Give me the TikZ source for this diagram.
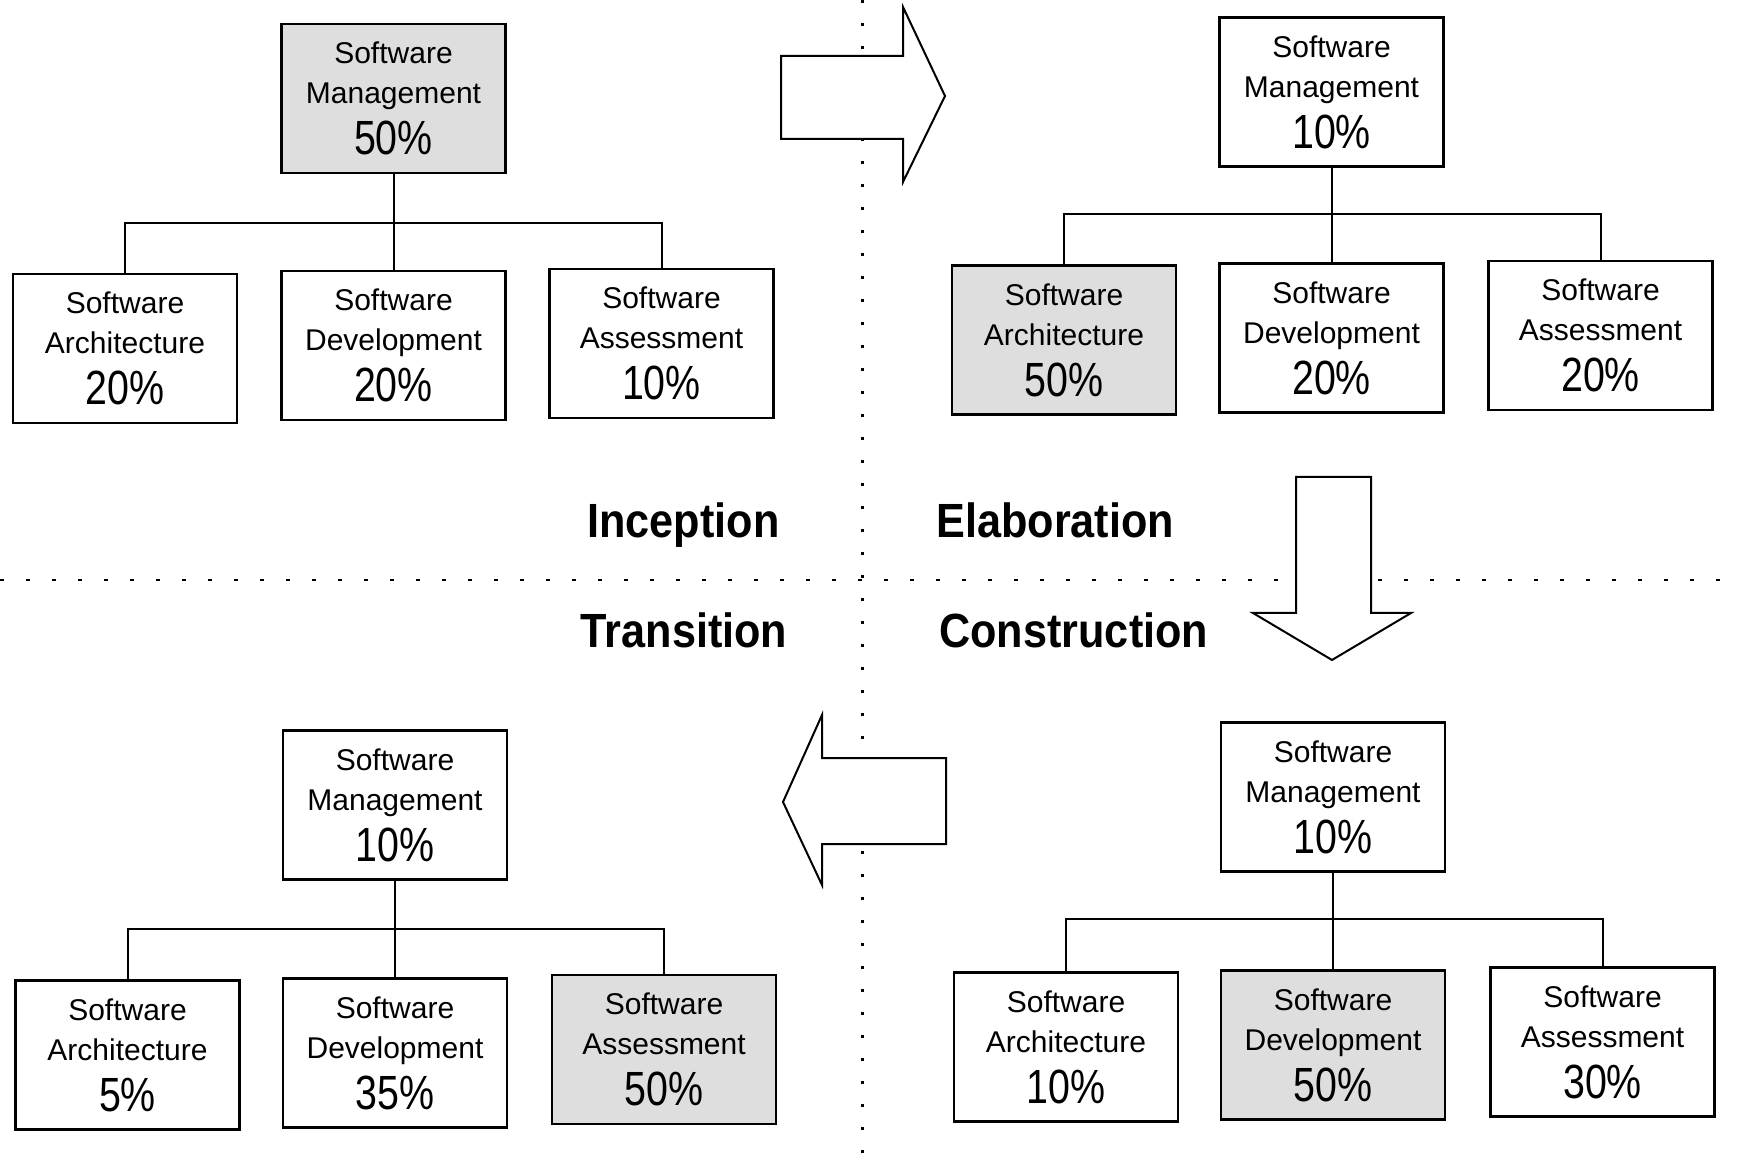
\documentclass[tikz,border=0pt]{standalone}
\usepackage{fontspec}
\setmainfont{Liberation Sans}
\newfontfamily\pctfont[FakeStretch=0.82]{Liberation Sans}
\newfontfamily\headfont[FakeStretch=0.9]{Liberation Sans}
\definecolor{shade}{gray}{0.87}
\begin{document}
\begin{tikzpicture}[x=0.5pt,y=-0.5pt,
  wbs/.style={draw, line width=1.2pt, minimum width=112pt, minimum height=74.5pt,
    inner sep=0pt, align=center, font=\fontsize{15}{20}\selectfont},
  hot/.style={wbs, fill=shade},
  link/.style={line width=1pt},
  phase/.style={inner sep=0pt, font=\headfont\bfseries\fontsize{24}{28}\selectfont},
  bigarrow/.style={draw, fill=white, line width=1pt, line join=miter},
  vdots/.style={line width=1.3pt, dash pattern=on 1.5pt off 10pt},
  hdots/.style={line width=1.3pt, dash pattern=on 1.8pt off 11.2pt}]
\newcommand{\pct}[1]{\\[5.5pt]{\pctfont\fontsize{24}{24}\selectfont #1\%}}
\useasboundingbox (0,0) rectangle (1742,1160);
\fill[white] (0,0) rectangle (1742,1160);

% quadrant separators
\draw[vdots] (862.5,0) -- (862.5,1160);
\draw[hdots] (0,580) -- (1742,580);

% Inception
\node[hot] (m1) at (393.5,98.5) {Software\\Management\pct{50}};
\node[wbs] (a1) at (125,348.5) {Software\\Architecture\pct{20}};
\node[wbs] (d1) at (393.5,345.5) {Software\\Development\pct{20}};
\node[wbs] (s1) at (661.5,343.5) {Software\\Assessment\pct{10}};
\coordinate (j1) at (393.5,223);
\draw[link] (m1.south) -- (d1.north);
\draw[link] (a1.north) |- (j1) -| (s1.north);

% Elaboration
\node[wbs] (m2) at (1331.5,92) {Software\\Management\pct{10}};
\node[hot] (a2) at (1064,340) {Software\\Architecture\pct{50}};
\node[wbs] (d2) at (1331.5,338) {Software\\Development\pct{20}};
\node[wbs] (s2) at (1600.5,335.5) {Software\\Assessment\pct{20}};
\coordinate (j2) at (1331.5,214);
\draw[link] (m2.south) -- (d2.north);
\draw[link] (a2.north) |- (j2) -| (s2.north);

% Transition
\node[wbs] (m3) at (395,805) {Software\\Management\pct{10}};
\node[wbs] (a3) at (127.5,1055) {Software\\Architecture\pct{5}};
\node[wbs] (d3) at (395,1053) {Software\\Development\pct{35}};
\node[hot] (s3) at (664,1049.5) {Software\\Assessment\pct{50}};
\coordinate (j3) at (395,929);
\draw[link] (m3.south) -- (d3.north);
\draw[link] (a3.north) |- (j3) -| (s3.north);

% Construction
\node[wbs] (m4) at (1333,797) {Software\\Management\pct{10}};
\node[wbs] (a4) at (1066,1047) {Software\\Architecture\pct{10}};
\node[hot] (d4) at (1333,1045) {Software\\Development\pct{50}};
\node[wbs] (s4) at (1602.5,1042) {Software\\Assessment\pct{30}};
\coordinate (j4) at (1333,919);
\draw[link] (m4.south) -- (d4.north);
\draw[link] (a4.north) |- (j4) -| (s4.north);

% phase names
\node[phase, anchor=base] (inc) at (683.5,538) {Inception};
\node[phase, anchor=base west] (ela) at (936,538) {Elaboration};
\node[phase, anchor=base] (tra) at (684,648) {Transition};
\node[phase, anchor=base west] (con) at (939,648) {Construction};

% block arrows between phases
\draw[bigarrow] (781,56) -- (903,56) -- (903,7) -- (945,96) -- (903,182)
  -- (903,139) -- (781,139) -- cycle;
\draw[bigarrow] (1296,477) -- (1371,477) -- (1371,613) -- (1411,613)
  -- (1332,660) -- (1253,613) -- (1296,613) -- cycle;
\draw[bigarrow] (946,758) -- (822,758) -- (822,715) -- (783,802) -- (822,885)
  -- (822,844) -- (946,844) -- cycle;
\end{tikzpicture}
\end{document}
